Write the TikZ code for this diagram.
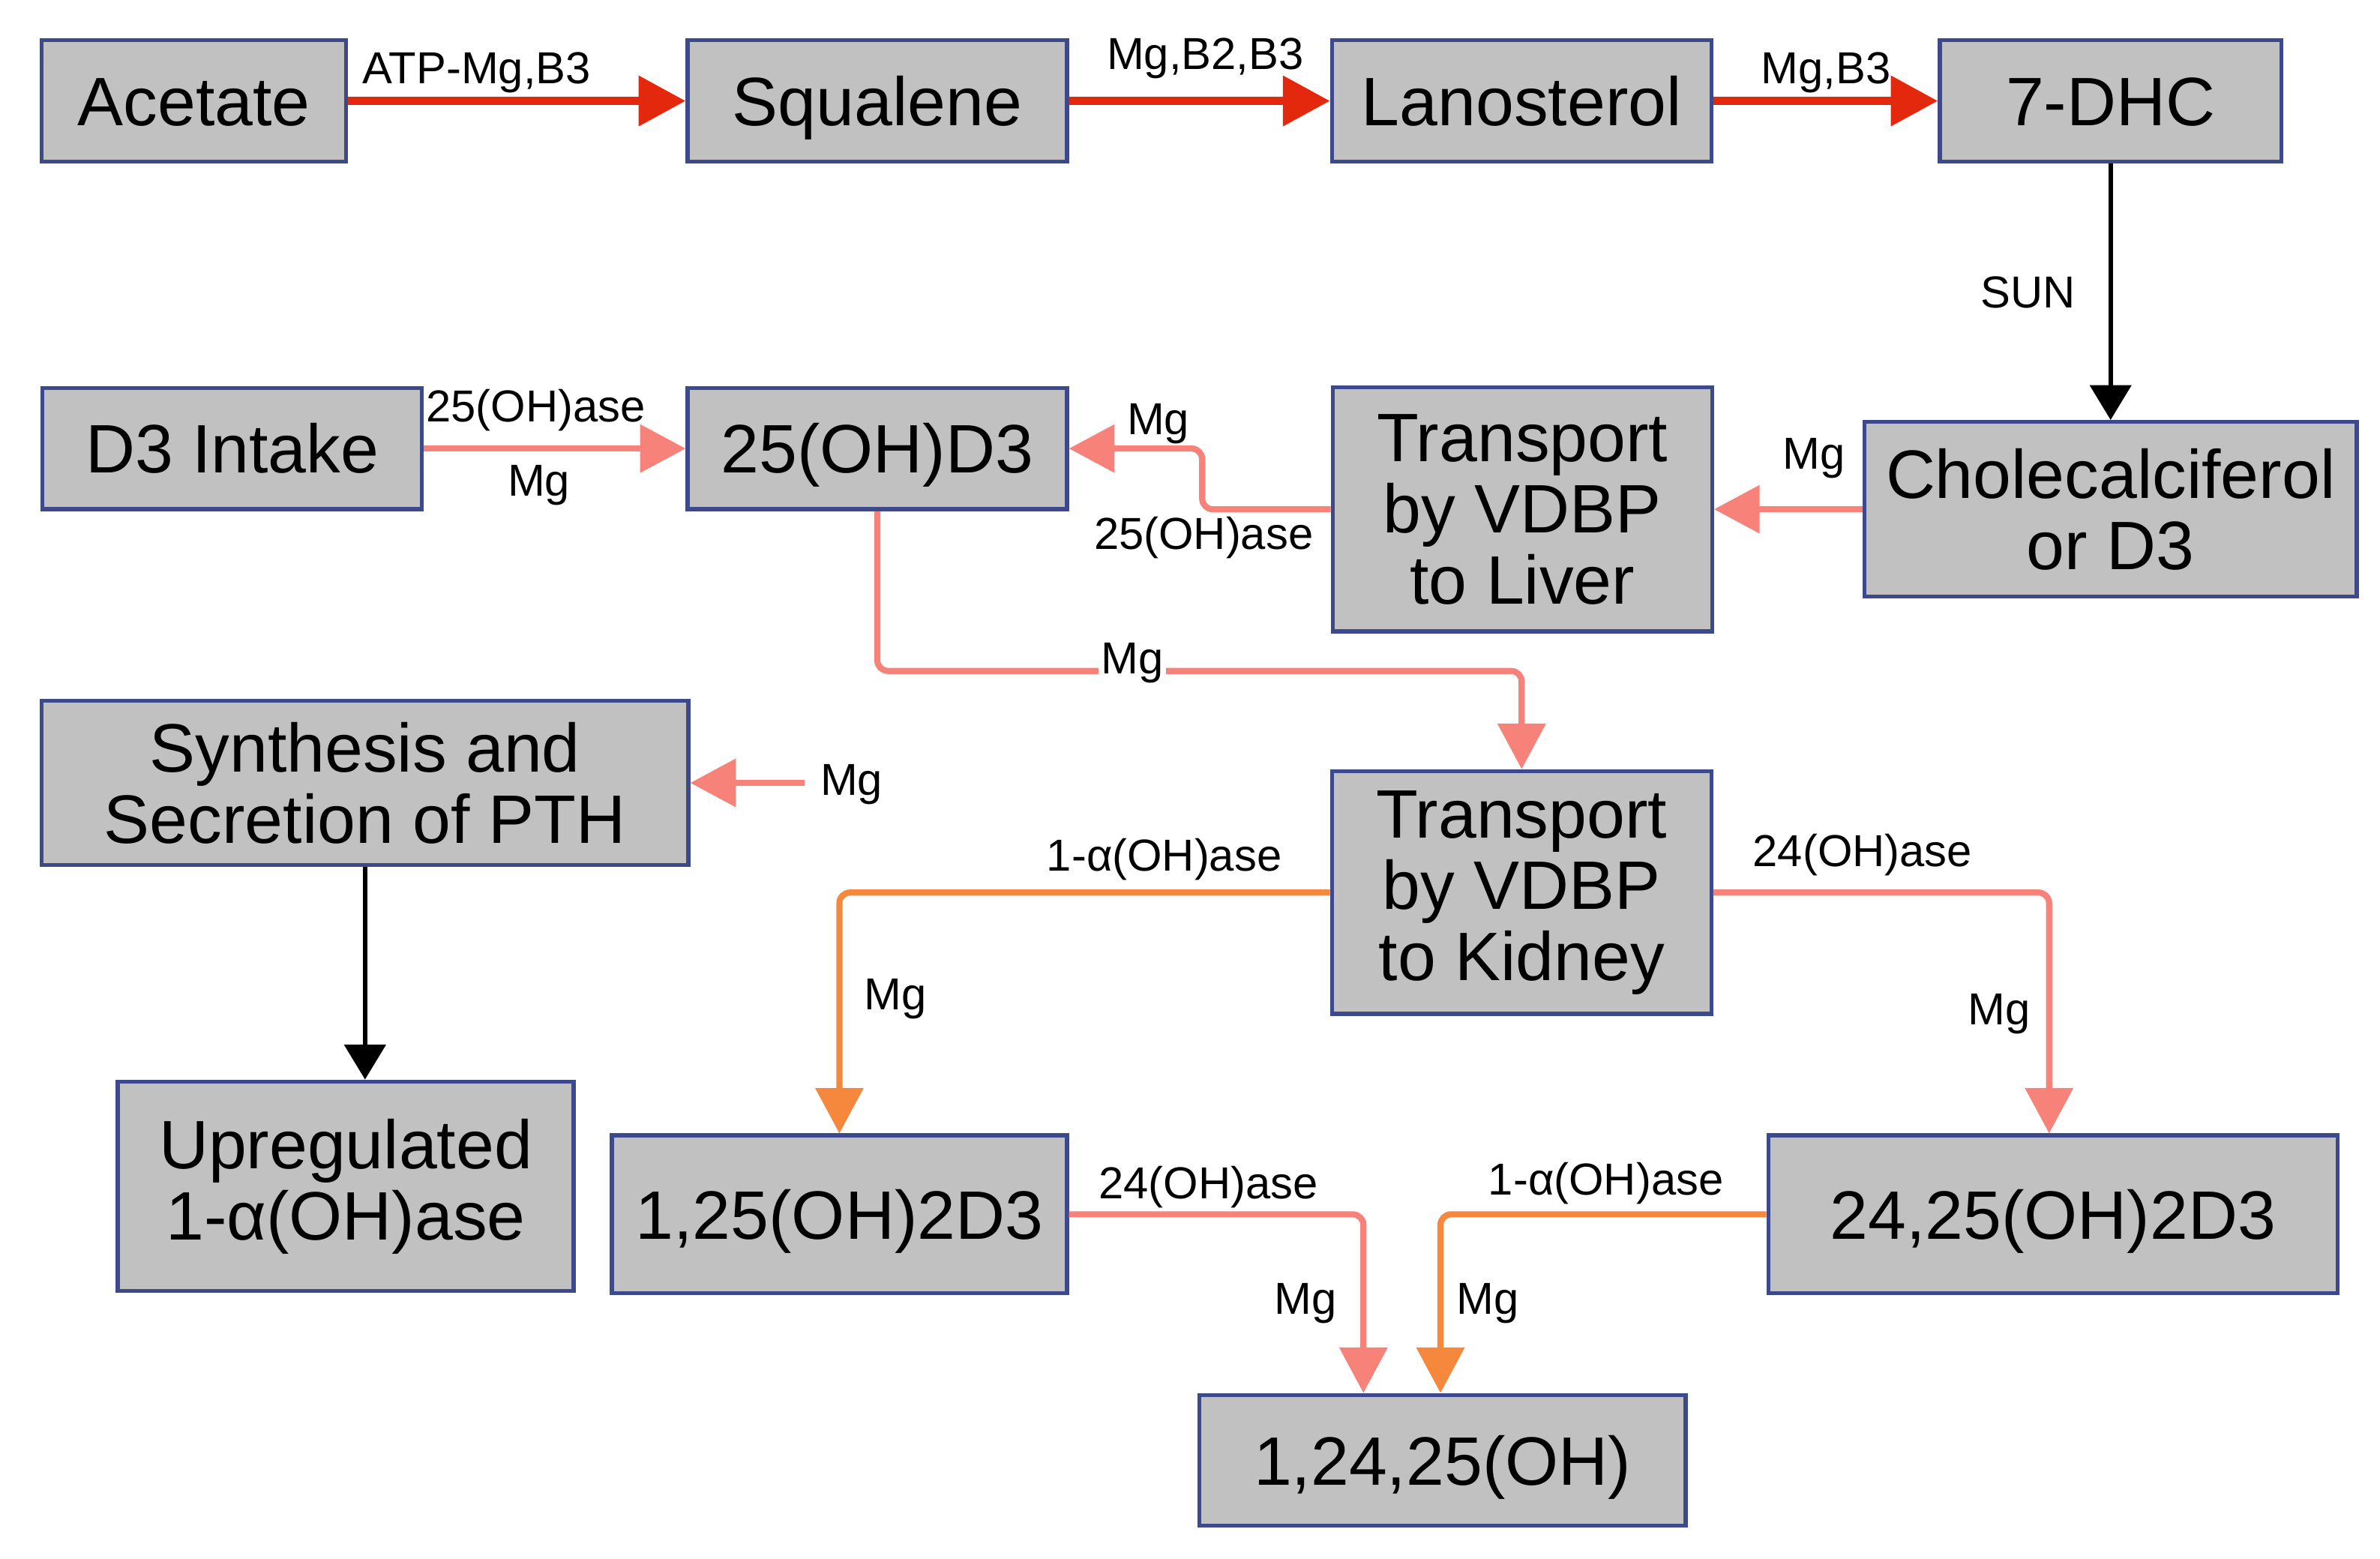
\documentclass[tikz,border=0pt]{standalone}
\usepackage{fontspec}
\setmainfont{Liberation Sans}
\usetikzlibrary{arrows.meta}
\definecolor{boxfill}{RGB}{193,193,193}
\definecolor{boxline}{RGB}{60,74,140}
\definecolor{redc}{RGB}{228,40,14}
\definecolor{pinkc}{RGB}{247,130,122}
\definecolor{orangec}{RGB}{246,136,62}
\tikzset{
  box/.style={draw=boxline, fill=boxfill, line width=1.5pt, inner sep=0pt, align=center,
    font=\fontsize{25.7}{26.7}\selectfont},
  onel/.style={text height=18.4pt, text depth=0pt},
  lbl/.style={inner sep=0pt, font=\fontsize{16.8}{19}\selectfont, anchor=base},
  redarr/.style={draw=redc, line width=3.2pt, -{Triangle[length=0.62cm,width=0.64cm]}},
  pinkarr/.style={draw=pinkc, line width=2.3pt, rounded corners=0.14cm, -{Triangle[length=0.6cm,width=0.62cm]}},
  orarr/.style={draw=orangec, line width=2.3pt, rounded corners=0.14cm, -{Triangle[length=0.6cm,width=0.62cm]}},
  blkarr/.style={draw=black, line width=1.8pt, -{Triangle[length=0.46cm,width=0.54cm]}}
}
\begin{document}
\begin{tikzpicture}[x=0.02cm,y=-0.02cm]
\fill[white] (0,0) rectangle (1568,1026.6);
\useasboundingbox (0,0) rectangle (1568,1026.6);

% boxes
\node[box, onel, minimum width=4.01cm, minimum height=1.6cm] (acetate) at (127.75,66.5) {Acetate};
\node[box, onel, minimum width=5.0cm, minimum height=1.6cm] (squalene) at (578,66.5) {Squalene};
\node[box, onel, minimum width=5.0cm, minimum height=1.6cm] (lanosterol) at (1002.5,66.5) {Lanosterol};
\node[box, onel, minimum width=4.5cm, minimum height=1.6cm] (dhc) at (1390.5,66.5) {7-DHC};

\node[box, onel, minimum width=5.0cm, minimum height=1.6cm] (d3intake) at (153,295.5) {D3 Intake};
\node[box, onel, minimum width=5.0cm, minimum height=1.6cm] (oh25) at (578,295.5) {25(OH)D3};
\node[box, minimum width=5.0cm, minimum height=3.22cm] (liver) at (1003,335.5) {Transport\\by VDBP\\to Liver};
\node[box, minimum width=6.49cm, minimum height=2.3cm] (chole) at (1390.5,335.5) {Cholecalciferol\\or D3};

\node[box, minimum width=8.52cm, minimum height=2.17cm] (pth) at (240.5,515.75) {Synthesis and\\Secretion of PTH};
\node[box, minimum width=5.0cm, minimum height=3.2cm] (kidney) at (1002.5,588) {Transport\\by VDBP\\to Kidney};

\node[box, minimum width=6.01cm, minimum height=2.76cm] (upreg) at (227.75,781.5) {Upregulated\\1-α(OH)ase};
\node[box, onel, minimum width=6.0cm, minimum height=2.08cm] (d125) at (553,800) {1,25(OH)2D3};
\node[box, onel, minimum width=7.5cm, minimum height=2.08cm] (d2425) at (1352.5,800) {24,25(OH)2D3};
\node[box, onel, minimum width=6.41cm, minimum height=1.72cm] (final) at (950.25,962) {1,24,25(OH)};

% top row
\draw[redarr] (acetate.east) -- (squalene.west);
\draw[redarr] (squalene.east) -- (lanosterol.west);
\draw[redarr] (lanosterol.east) -- (dhc.west);
\node[lbl] (l1) at (314,55) {ATP-Mg,B3};
\node[lbl] (l2) at (794,45.5) {Mg,B2,B3};
\node[lbl] (l3) at (1203,55) {Mg,B3};

\draw[blkarr] (dhc.south) -- (dhc.south |- chole.north);
\node[lbl] (lsun) at (1336,203) {SUN};

% second row
\draw[pinkarr] (d3intake.east) -- (oh25.west);
\node[lbl] (l4) at (353,278) {25(OH)ase};
\node[lbl] (l5) at (355,327) {Mg};

\draw[pinkarr] (chole.west) -- (liver.east);
\node[lbl] (l6) at (1195,309) {Mg};

\draw[pinkarr] (liver.west) -- (792,335.5) |- (oh25.east);
\node[lbl] (l7) at (763,286.5) {Mg};
\node[lbl] (l8) at (793,362) {25(OH)ase};

\draw[pinkarr] (oh25.south) -- (578,442) -| (kidney.north);
\node[lbl, fill=white, inner xsep=1pt] (l9) at (746,444) {Mg};

% PTH
\coordinate (mgsrc) at (530,515.75);
\draw[pinkarr] (mgsrc) -- (pth.east);
\node[lbl] (l10) at (561,524) {Mg};
\draw[blkarr] (pth.south) -- (pth.south |- upreg.north);

% kidney outputs
\draw[orarr] (kidney.west) -| (d125.north);
\node[lbl] (l11) at (767,574) {1-α(OH)ase};
\node[lbl] (l12) at (590,665) {Mg};

\draw[pinkarr] (kidney.east) -| ([xshift=-0.05cm]d2425.north);
\node[lbl] (l13) at (1227,571) {24(OH)ase};
\node[lbl] (l14) at (1317,675) {Mg};

% to final
\draw[pinkarr] (d125.east) -| ([xshift=-1.04cm]final.north);
\node[lbl] (l15) at (796,789.5) {24(OH)ase};
\node[lbl] (l16) at (860,866) {Mg};

\draw[orarr] (d2425.west) -| ([xshift=-0.025cm]final.north);
\node[lbl] (l17) at (1058,787) {1-α(OH)ase};
\node[lbl] (l18) at (980,866) {Mg};
\end{tikzpicture}
\end{document}
